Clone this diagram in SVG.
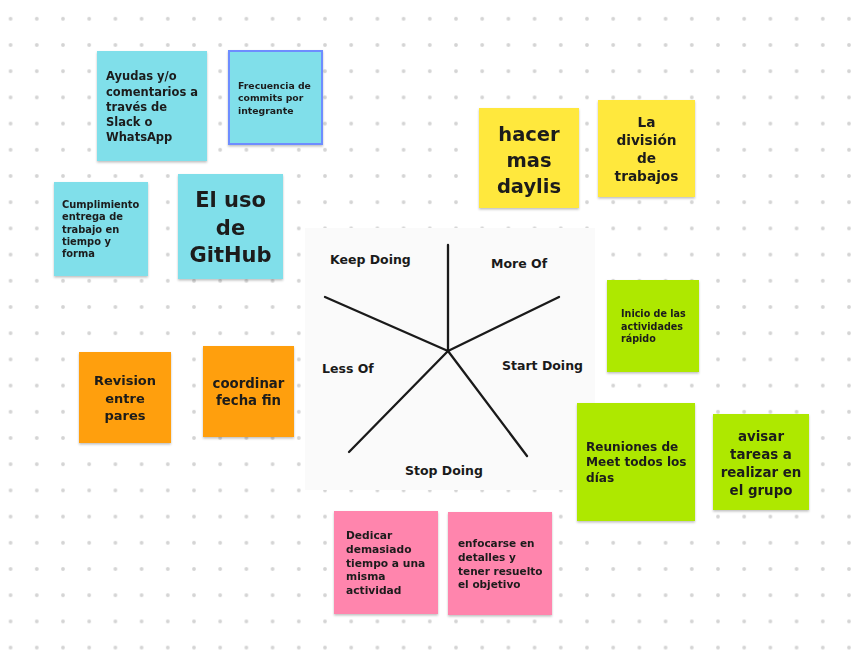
<svg xmlns="http://www.w3.org/2000/svg" width="864" height="668" viewBox="0 0 864 668">
<defs>
<pattern id="dots" x="10.6" y="18.8" width="26.2" height="26.2" patternUnits="userSpaceOnUse">
<circle cx="0" cy="0" r="1.9" fill="#d4d4d4"/><circle cx="26.2" cy="0" r="1.9" fill="#d4d4d4"/><circle cx="0" cy="26.2" r="1.9" fill="#d4d4d4"/><circle cx="26.2" cy="26.2" r="1.9" fill="#d4d4d4"/>
</pattern>
<filter id="sh" x="-10%" y="-10%" width="125%" height="125%">
<feDropShadow dx="0" dy="1.5" stdDeviation="1.2" flood-color="#000" flood-opacity="0.25"/>
</filter>
</defs>
<style>
.n{font-family:"DejaVu Sans",Verdana,sans-serif;font-weight:bold;fill:#1b1b1b}
.c{text-anchor:middle}
.cy{fill:#80dfea}
.ye{fill:#ffe83c}
.gr{fill:#aee800}
.pk{fill:#ff85ad}
.or{fill:#ff9f0a}
.w{font-family:"DejaVu Sans",Verdana,sans-serif;font-weight:bold;font-size:12.5px;fill:#1a1a1a}
.ln{stroke:#1a1a1a;stroke-width:2.3;fill:none;stroke-linecap:round}
</style>
<rect width="864" height="668" fill="#ffffff"/>
<rect width="864" height="668" fill="url(#dots)"/>

<g id="wheel">
<rect x="305" y="228" width="290" height="262" fill="#fafafa"/>
<g id="connectors">
<line class="ln" x1="448" y1="351" x2="448" y2="245"/>
<line class="ln" x1="448" y1="351" x2="325" y2="297"/>
<line class="ln" x1="448" y1="351" x2="559" y2="297"/>
<line class="ln" x1="448" y1="351" x2="349" y2="452"/>
<line class="ln" x1="448" y1="351" x2="527" y2="456"/>
</g>
<text class="w" x="330" y="264">Keep Doing</text>
<text class="w" x="491" y="268">More Of</text>
<text class="w" x="322" y="373">Less Of</text>
<text class="w" x="502" y="370">Start Doing</text>
<text class="w" x="405" y="475">Stop Doing</text>
</g>

<g id="n1" filter="url(#sh)"><rect class="cy" x="97" y="51" width="110" height="110"/>
<text class="n" font-size="11.5" x="106"><tspan x="106" y="80">Ayudas y/o</tspan><tspan x="106" y="95.5">comentarios a</tspan><tspan x="106" y="111">través de</tspan><tspan x="106" y="126">Slack o</tspan><tspan x="106" y="141">WhatsApp</tspan></text></g>

<g id="n2" filter="url(#sh)"><rect class="cy" x="229" y="51" width="93" height="93" stroke="#6e8dff" stroke-width="2"/>
<text class="n" font-size="9.3" x="238"><tspan x="238" y="88.5">Frecuencia de</tspan><tspan x="238" y="101">commits por</tspan><tspan x="238" y="113.5">integrante</tspan></text></g>

<g id="n3" filter="url(#sh)"><rect class="cy" x="54" y="182" width="94" height="94"/>
<text class="n" font-size="9.9" x="62"><tspan x="62" y="207.5">Cumplimiento</tspan><tspan x="62" y="220">entrega de</tspan><tspan x="62" y="232.5">trabajo en</tspan><tspan x="62" y="245">tiempo y</tspan><tspan x="62" y="257">forma</tspan></text></g>

<g id="n4" filter="url(#sh)"><rect class="cy" x="178" y="174" width="105" height="105"/>
<text class="n c" font-size="21"><tspan x="230.5" y="207">El uso</tspan><tspan x="230.5" y="234.5">de</tspan><tspan x="230.5" y="262">GitHub</tspan></text></g>

<g id="n5" filter="url(#sh)"><rect class="ye" x="479" y="108" width="100" height="100"/>
<text class="n c" font-size="19.5"><tspan x="529" y="140.5">hacer</tspan><tspan x="529" y="166.5">mas</tspan><tspan x="529" y="192.5">daylis</tspan></text></g>

<g id="n6" filter="url(#sh)"><rect class="ye" x="598" y="100" width="97" height="97"/>
<text class="n c" font-size="13.7"><tspan x="646.5" y="127">La</tspan><tspan x="646.5" y="145">división</tspan><tspan x="646.5" y="163">de</tspan><tspan x="646.5" y="181">trabajos</tspan></text></g>

<g id="n7" filter="url(#sh)"><rect class="gr" x="607" y="280" width="92" height="92"/>
<text class="n" font-size="9.6"><tspan x="621" y="316.5">Inicio de las</tspan><tspan x="621" y="329.5">actividades</tspan><tspan x="621" y="342">rápido</tspan></text></g>

<g id="n8" filter="url(#sh)"><rect class="gr" x="577" y="403" width="118" height="118"/>
<text class="n" font-size="12.1"><tspan x="586" y="450.5">Reuniones de</tspan><tspan x="586" y="466">Meet todos los</tspan><tspan x="586" y="481.5">días</tspan></text></g>

<g id="n9" filter="url(#sh)"><rect class="gr" x="713" y="414" width="96" height="96"/>
<text class="n c" font-size="13.4"><tspan x="761" y="441">avisar</tspan><tspan x="761" y="459">tareas a</tspan><tspan x="761" y="477">realizar en</tspan><tspan x="761" y="495">el grupo</tspan></text></g>

<g id="n10" filter="url(#sh)"><rect class="pk" x="334" y="511" width="104" height="103"/>
<text class="n" font-size="10.7"><tspan x="346" y="539">Dedicar</tspan><tspan x="346" y="553">demasiado</tspan><tspan x="346" y="566.5">tiempo a una</tspan><tspan x="346" y="580">misma</tspan><tspan x="346" y="594">actividad</tspan></text></g>

<g id="n11" filter="url(#sh)"><rect class="pk" x="448" y="512" width="104" height="103"/>
<text class="n" font-size="10.5"><tspan x="458" y="547">enfocarse en</tspan><tspan x="458" y="561">detalles y</tspan><tspan x="458" y="574.5">tener resuelto</tspan><tspan x="458" y="588">el objetivo</tspan></text></g>

<g id="n12" filter="url(#sh)"><rect class="or" x="79" y="352" width="92" height="91"/>
<text class="n c" font-size="13"><tspan x="125" y="385">Revision</tspan><tspan x="125" y="403">entre</tspan><tspan x="125" y="420">pares</tspan></text></g>

<g id="n13" filter="url(#sh)"><rect class="or" x="203" y="346" width="91" height="91"/>
<text class="n c" font-size="13.3"><tspan x="248.5" y="388">coordinar</tspan><tspan x="248.5" y="405">fecha fin</tspan></text></g>
</svg>
